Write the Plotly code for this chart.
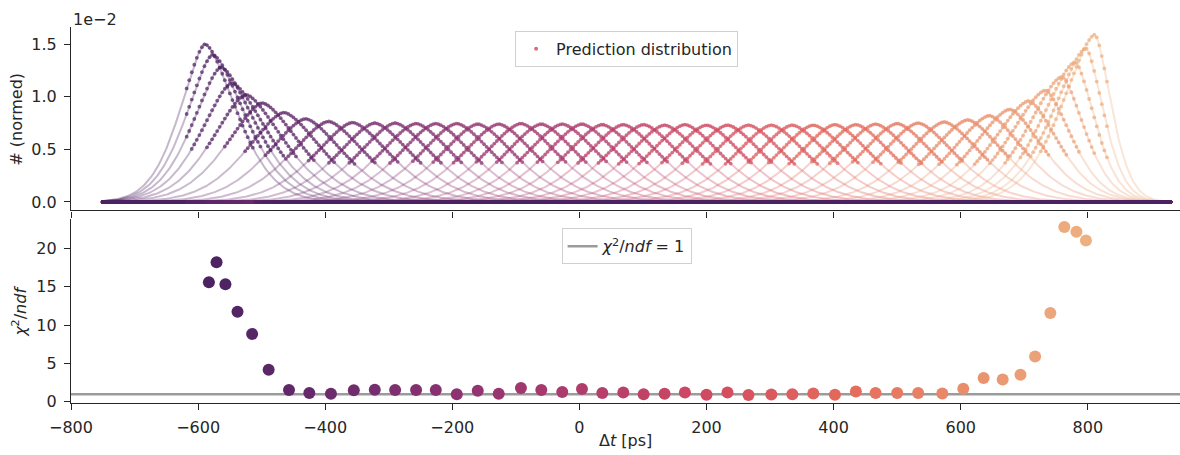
import numpy as np
import plotly.graph_objects as go

# ---------------- data ----------------
# true time difference of each test sample (x of chi2 points) [ps]
dt_true = [-583, -571, -557, -538, -515, -489, -457, -425, -391, -355,
           -322, -290, -257, -226, -193, -160, -127, -92, -60, -27,
           4, 36, 69, 101, 134, 166, 200, 233, 266, 302,
           335, 368, 402, 435, 466, 500, 533, 571, 604, 636,
           666, 694, 717, 741, 763, 782, 797]
# chi2 / ndf of each prediction distribution
chi2_ndf = [15.6, 18.2, 15.35, 11.75, 8.85, 4.2, 1.55, 1.15, 1.05, 1.5,
            1.57, 1.54, 1.54, 1.54, 1.0, 1.45, 1.05, 1.8, 1.54, 1.27,
            1.67, 1.14, 1.22, 1.0, 1.05, 1.22, 0.92, 1.22, 0.88, 0.97,
            1.0, 1.1, 0.92, 1.36, 1.14, 1.14, 1.14, 1.1, 1.71, 3.1,
            2.9, 3.55, 5.9, 11.6, 22.8, 22.2, 21.05]
# fitted distribution parameters (peak position [ps], peak height [1e-2],
# left / right width [ps])
peak_pos = [-589, -577, -564, -547, -525, -499, -465, -431, -395, -357,
            -322, -290, -257, -226, -193, -160, -127, -92, -60, -27,
            4, 36, 69, 101, 134, 166, 200, 233, 266, 302,
            335, 368, 402, 435, 466, 500, 533, 574, 611, 645,
            677, 707, 733, 759, 780, 797, 811]
peak_height = [1.50, 1.40, 1.28, 1.13, 1.02, 0.94, 0.85, 0.79, 0.765, 0.755,
               0.75, 0.75, 0.745, 0.745, 0.745, 0.74, 0.74, 0.745, 0.74, 0.74,
               0.74, 0.735, 0.735, 0.735, 0.73, 0.735, 0.73, 0.73, 0.73, 0.73,
               0.73, 0.73, 0.735, 0.735, 0.74, 0.745, 0.75, 0.76, 0.78, 0.82,
               0.88, 0.96, 1.06, 1.19, 1.33, 1.46, 1.59]
width_left = [58, 62, 66, 72, 78, 83, 87, 89, 90, 90,
              90, 90, 90, 90, 90, 90, 90, 90, 90, 90,
              90, 90, 90, 90, 90, 90, 90, 90, 90, 90,
              90, 90, 90, 90, 90, 90, 90, 90, 90, 89,
              88, 86, 84, 81, 79, 77, 76]
width_right = [72, 76, 80, 84, 87, 89, 90, 90, 90, 90,
               90, 90, 90, 90, 90, 90, 90, 90, 90, 90,
               90, 90, 90, 90, 90, 90, 90, 90, 90, 90,
               90, 90, 90, 90, 90, 90, 90, 90, 88, 84,
               78, 70, 61, 53, 46, 41, 38]
shape_power = 1.6
dot_half_window = 72      # prediction histogram filled within +-72 ps of true value
dot_support = (-620, 830)  # outside of this the predictions are empty
hist_range = (-750, 930)
hist_bin = 4

x_ticks = [-800, -600, -400, -200, 0, 200, 400, 600, 800]
x_range = [-800, 945]
y1_ticks = [0.0, 0.5, 1.0, 1.5]
y2_ticks = [0, 5, 10, 15, 20]

# ---------------- colours (seaborn "flare") ----------------
FLARE = [(0.0, (237, 176, 129)), (1 / 7, (233, 141, 107)), (2 / 7, (227, 104, 92)),
         (3 / 7, (209, 74, 97)), (4 / 7, (177, 60, 108)), (5 / 7, (143, 51, 113)),
         (6 / 7, (108, 43, 109)), (1.0, (75, 35, 98))]


def flare(v, alpha=1.0):
    v = min(max(v, 0.0), 1.0)
    for (v0, c0), (v1, c1) in zip(FLARE[:-1], FLARE[1:]):
        if v <= v1:
            t = (v - v0) / (v1 - v0)
            c = [c0[k] + t * (c1[k] - c0[k]) for k in range(3)]
            return f"rgba({c[0]:.0f},{c[1]:.0f},{c[2]:.0f},{alpha})"
    return f"rgba(75,35,98,{alpha})"


n = len(dt_true)
xmin, xmax = min(dt_true), max(dt_true)
hue = [1 - (x - xmin) / (xmax - xmin) for x in dt_true]


def profile(x, peak, h, aL, aR):
    d = x - peak
    a = np.where(d < 0, aL, aR)
    return h * np.exp(-(np.abs(d) / a) ** shape_power)


fig = go.Figure()

# fitted curves (upper panel)
xl = np.linspace(hist_range[0], hist_range[1], 841)
for i in range(n):
    yl = profile(xl, peak_pos[i], peak_height[i], width_left[i], width_right[i])
    fig.add_trace(go.Scatter(x=xl, y=yl, mode="lines", xaxis="x", yaxis="y",
                             line=dict(color=flare(hue[i], 0.32), width=2),
                             showlegend=False, hoverinfo="skip"))

# prediction distributions (dots)
xb = np.arange(hist_range[0], hist_range[1] + 0.1, hist_bin)
dx, dy, dc = [], [], []
for i in reversed(range(n)):
    lo = max(dt_true[i] - dot_half_window, dot_support[0])
    hi = min(dt_true[i] + dot_half_window, dot_support[1])
    v = profile(xb, peak_pos[i], peak_height[i], width_left[i], width_right[i])
    v = np.where((xb >= lo) & (xb <= hi), v, 0.0)
    dx.extend(xb.tolist())
    dy.extend(v.tolist())
    dc.extend([flare(hue[i], 0.72)] * len(xb))
fig.add_trace(go.Scatter(x=dx, y=dy, mode="markers", xaxis="x", yaxis="y",
                         marker=dict(size=3.8, color=dc, line=dict(width=0)),
                         showlegend=False, hoverinfo="skip"))
fig.add_trace(go.Scatter(x=[None], y=[None], mode="markers", xaxis="x", yaxis="y",
                         marker=dict(size=4, color="rgba(209,74,97,0.8)"),
                         name="Prediction distribution", legend="legend"))

# lower panel: chi2/ndf = 1 reference and points
fig.add_trace(go.Scatter(x=x_range, y=[1, 1], mode="lines", xaxis="x2", yaxis="y2",
                         line=dict(color="#9b9b9b", width=2.5),
                         name="<i>χ</i><sup>2</sup>/<i>ndf</i> = 1", legend="legend2"))
fig.add_trace(go.Scatter(x=dt_true, y=chi2_ndf, mode="markers", xaxis="x2", yaxis="y2",
                         marker=dict(size=12, color=[flare(h) for h in hue],
                                     line=dict(width=0)),
                         showlegend=False))

FONT = dict(family="DejaVu Sans", size=16, color="#262626")
axis_common = dict(showline=True, linecolor="#262626", linewidth=1.25,
                   ticks="outside", ticklen=6, tickwidth=1.25, tickcolor="#262626",
                   showgrid=False, zeroline=False, tickfont=FONT,
                   ticklabelstandoff=4)

fig.update_layout(
    width=1180, height=455,
    margin=dict(l=71, r=0, t=27, b=52),
    paper_bgcolor="white", plot_bgcolor="white",
    font=FONT,
    xaxis=dict(domain=[0, 1], anchor="y", range=x_range, tickvals=x_ticks,
               showticklabels=False, **axis_common),
    yaxis=dict(domain=[0.512, 1], anchor="x", range=[-0.081, 1.662],
               tickvals=y1_ticks, tickformat=".1f", **axis_common),
    xaxis2=dict(domain=[0, 1], anchor="y2", range=x_range, tickvals=x_ticks,
                **axis_common),
    yaxis2=dict(domain=[0, 0.4894], anchor="x2", range=[-0.15, 23.85],
                tickvals=y2_ticks, **axis_common),
    legend=dict(x=0.501, xanchor="center", y=0.99, yanchor="top",
                bgcolor="white", bordercolor="#d0d0d0", borderwidth=1,
                font=FONT),
    legend2=dict(x=0.501, xanchor="center", y=0.4646, yanchor="top",
                 bgcolor="white", bordercolor="#d0d0d0", borderwidth=1,
                 font=FONT),
    annotations=[
        dict(text="1e−2", xref="paper", yref="paper", x=0, y=1, yshift=-4,
             xanchor="left", yanchor="bottom", showarrow=False, font=FONT),
        dict(text="# (normed)", xref="paper", yref="paper", x=-0.0487, y=0.756,
             xanchor="center", yanchor="middle", textangle=-90, showarrow=False,
             font=FONT),
        dict(text="<i>χ</i><sup>2</sup>/<i>ndf</i>", xref="paper", yref="paper",
             x=-0.046, y=0.245, xanchor="center", yanchor="middle", textangle=-90,
             showarrow=False, font=FONT),
        dict(text="Δ<i>t</i> [ps]", xref="paper", yref="paper", x=0.5, y=-0.101,
             xanchor="center", yanchor="middle", showarrow=False, font=FONT),
    ],
)

fig.write_html("out.html", config={"displayModeBar": False},
               post_script="document.body.style.margin='0';")
